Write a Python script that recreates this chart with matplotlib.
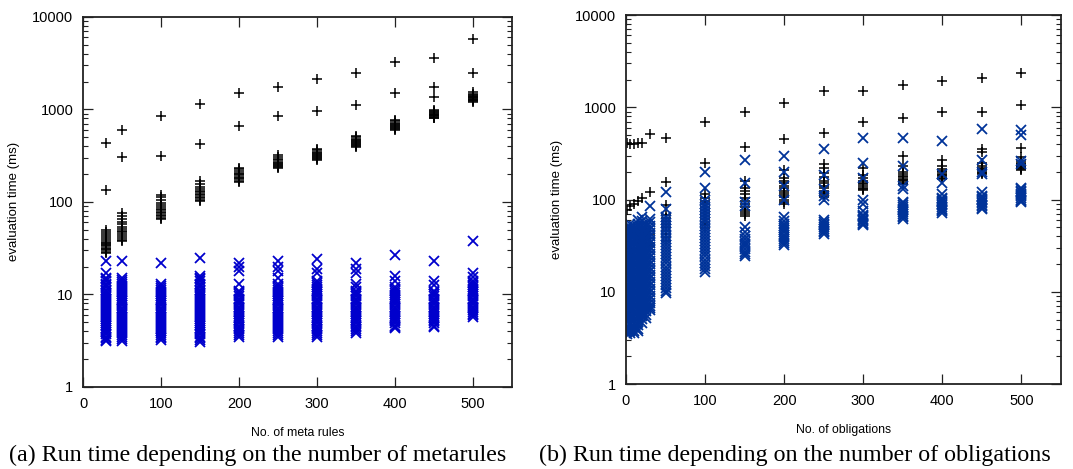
import numpy as np
import matplotlib
matplotlib.use("Agg")
import matplotlib.pyplot as plt

# (a) run time vs number of meta rules
meta_x = [30, 50, 100, 150, 200, 250, 300, 350, 400, 450, 500]
meta_plus = [
    [430, 135, 50, 47, 45, 43, 41, 39, 37, 36, 35, 34, 33, 32, 31, 30, 29, 28],
    [600, 305, 75, 70, 65, 60, 57, 54, 51, 49, 47, 45, 43, 41, 39, 38],
    [850, 310, 120, 112, 105, 98, 92, 88, 84, 81, 78, 75, 72, 70, 67, 65],
    [1150, 420, 170, 158, 145, 138, 132, 127, 122, 118, 114, 110, 106, 102],
    [1500, 660, 235, 225, 215, 207, 200, 194, 188, 182, 176, 170, 165],
    [1750, 840, 320, 305, 292, 282, 273, 265, 258, 250, 243, 236, 230],
    [2150, 970, 375, 360, 348, 338, 328, 320, 312, 305, 297, 290, 282],
    [2500, 1120, 520, 500, 480, 465, 452, 440, 428, 418, 408, 398, 390],
    [3250, 1500, 770, 740, 715, 695, 675, 660, 645, 630, 615, 600],
    [3600, 1750, 1350, 990, 960, 935, 912, 895, 878, 862, 846, 830, 815, 800],
    [5700, 2450, 1530, 1480, 1440, 1405, 1375, 1350, 1325, 1300, 1275, 1250, 1225, 1200],
]
meta_cross = [
    [23, 17, 15.2, 14.5, 13.8, 13.1, 12.5, 11.9, 11.3, 10.8, 10.3, 9.8, 9.3, 8.9, 8.5, 8.1, 7.7, 7.3,
     7.0, 6.6, 6.3, 6.0, 5.7, 5.4, 5.2, 4.9, 4.7, 4.5, 4.3, 4.1, 3.9, 3.7, 3.5, 3.35, 3.2, 3.1],
    [23, 15, 14.3, 13.6, 13.0, 12.4, 11.8, 11.2, 10.7, 10.2, 9.7, 9.2, 8.8, 8.4, 8.0, 7.6, 7.2, 6.9,
     6.6, 6.3, 6.0, 5.7, 5.4, 5.15, 4.9, 4.65, 4.45, 4.25, 4.05, 3.85, 3.65, 3.5, 3.3, 3.15],
    [22, 13, 12.4, 11.8, 11.2, 10.7, 10.2, 9.7, 9.2, 8.8, 8.4, 8.0, 7.6, 7.2, 6.9, 6.6, 6.3, 6.0,
     5.7, 5.4, 5.15, 4.9, 4.65, 4.45, 4.25, 4.05, 3.85, 3.65, 3.5, 3.35, 3.2],
    [25, 16, 15.2, 14.5, 13.8, 13.1, 12.5, 11.9, 11.3, 10.8, 10.3, 9.8, 9.3, 8.9, 8.5, 8.1, 7.7, 7.3,
     7.0, 6.6, 6.3, 6.0, 5.7, 5.4, 5.2, 4.9, 4.7, 4.5, 4.3, 4.1, 3.9, 3.7, 3.5, 3.35, 3.2, 3.05],
    [22, 20, 18, 13, 11, 10.5, 10.0, 9.5, 9.0, 8.6, 8.2, 7.8, 7.4, 7.1, 6.8, 6.5, 6.2, 5.9,
     5.6, 5.35, 5.1, 4.85, 4.6, 4.4, 4.2, 4.0, 3.8, 3.6, 3.45],
    [23, 20, 18, 15, 13, 12.4, 11.8, 11.2, 10.7, 10.2, 9.7, 9.2, 8.8, 8.4, 8.0, 7.6, 7.2, 6.9,
     6.6, 6.3, 6.0, 5.7, 5.4, 5.15, 4.9, 4.65, 4.45, 4.25, 4.05, 3.85, 3.65, 3.5],
    [24, 19, 17, 14, 13.3, 12.7, 12.1, 11.5, 11.0, 10.5, 10.0, 9.5, 9.0, 8.6, 8.2, 7.8, 7.4, 7.1,
     6.8, 6.5, 6.2, 5.9, 5.6, 5.35, 5.1, 4.85, 4.6, 4.4, 4.2, 4.0, 3.8, 3.65, 3.5],
    [22, 19, 17, 13, 12, 11, 10.5, 10.0, 9.5, 9.0, 8.6, 8.2, 7.8, 7.4, 7.1, 6.8, 6.5, 6.2,
     5.9, 5.6, 5.35, 5.1, 4.85, 4.6, 4.4, 4.2, 4.0, 3.85],
    [27, 16, 14, 12, 11.4, 10.9, 10.4, 9.9, 9.4, 9.0, 8.6, 8.2, 7.8, 7.4, 7.1, 6.8, 6.5, 6.2,
     5.9, 5.6, 5.35, 5.1, 4.85, 4.6, 4.45, 4.35],
    [23, 14, 12.5, 11, 10.5, 10.0, 9.5, 9.0, 8.6, 8.2, 7.8, 7.4, 7.1, 6.8, 6.5, 6.2, 5.9, 5.6,
     5.35, 5.1, 4.85, 4.6, 4.45],
    [38, 17, 15.5, 14, 13.3, 12.7, 12.1, 11.5, 11.0, 10.5, 10.0, 9.5, 9.0, 8.6, 8.2, 7.8, 7.4,
     7.1, 6.8, 6.5, 6.2, 5.95, 5.75],
]

# (b) run time vs number of obligations
obl_x = [1, 5, 10, 15, 20, 25, 30, 50, 100, 150, 200, 250, 300, 350, 400, 450, 500]
obl_plus = [
    [415, 78, 48, 42, 36, 31, 27, 23, 20],
    [400, 85, 47, 41, 35, 30, 26],
    [405, 90, 48, 43, 38, 33, 29],
    [410, 96, 47, 42, 37, 33],
    [415, 103, 48, 44, 40, 36],
    [45, 41, 37],
    [515, 122, 46, 42, 38, 34, 31],
    [470, 155, 88, 68, 63, 58, 54, 50, 46, 42, 39, 36],
    [700, 250, 115, 105, 97, 90, 84, 78, 72, 67, 62, 57, 53, 49],
    [880, 370, 160, 135, 125, 115, 105, 97, 90, 84, 78, 74, 70, 67],
    [1100, 450, 210, 170, 160, 150, 140, 132, 125, 118, 112, 106, 100, 95, 90],
    [1500, 530, 240, 220, 195, 175, 160, 150, 140, 132, 125, 119, 114, 110, 106],
    [1500, 700, 220, 185, 170, 160, 152, 146, 140, 135, 131, 127],
    [1750, 760, 300, 230, 200, 190, 182, 175, 169, 163, 158, 153, 149],
    [1950, 880, 270, 230, 215, 205, 197, 190, 184, 178, 173, 168],
    [2100, 900, 350, 330, 250, 232, 222, 214, 207, 200, 194, 188],
    [2350, 1050, 360, 290, 265, 250, 240, 232, 225, 219, 213, 207],
]
obl_cross = [
    [48, 44, 40.5, 37, 34, 31, 28.5, 26, 24, 22, 20.2, 18.5, 17, 15.6, 14.3, 13.1, 12, 11, 10.1,
     9.3, 8.5, 7.8, 7.2, 6.6, 6.05, 5.55, 5.1, 4.7, 4.3, 3.95, 3.65, 3.5],
    [55, 50, 46, 42, 38.5, 35.5, 32.5, 29.8, 27.3, 25, 23, 21.1, 19.4, 17.8, 16.3, 15, 13.7, 12.6,
     11.6, 10.6, 9.7, 8.9, 8.2, 7.5, 6.9, 6.3, 5.8, 5.3, 4.9, 4.5, 4.1, 3.8, 3.6],
    [52, 47.5, 43.5, 40, 36.7, 33.6, 30.8, 28.2, 25.9, 23.7, 21.7, 19.9, 18.3, 16.8, 15.4, 14.1,
     12.9, 11.8, 10.8, 9.9, 9.1, 8.35, 7.65, 7.0, 6.4, 5.9, 5.4, 4.95, 4.55, 4.15, 3.8, 3.6],
    [60, 55, 50, 46, 42, 38.5, 35.3, 32.4, 29.7, 27.2, 24.9, 22.8, 20.9, 19.2, 17.6, 16.1, 14.8,
     13.5, 12.4, 11.4, 10.4, 9.55, 8.75, 8.0, 7.35, 6.75, 6.2, 5.65, 5.2, 4.75, 4.35, 4.0, 3.8],
    [65, 58, 53, 48.5, 44.5, 40.8, 37.4, 34.3, 31.4, 28.8, 26.4, 24.2, 22.2, 20.3, 18.6, 17.1,
     15.7, 14.4, 13.2, 12.1, 11.1, 10.2, 9.3, 8.5, 7.8, 7.15, 6.55, 6.0, 5.5, 5.05, 4.6],
    [55, 50, 46, 42, 38.5, 35.3, 32.4, 29.7, 27.2, 24.9, 22.8, 20.9, 19.2, 17.6, 16.1, 14.8,
     13.5, 12.4, 11.4, 10.4, 9.55, 8.75, 8.0, 7.35, 6.75, 6.2, 5.65, 5.2],
    [85, 62, 57, 52, 47.5, 43.5, 40, 36.7, 33.6, 30.8, 28.2, 25.9, 23.7, 21.7, 19.9, 18.3, 16.8,
     15.4, 14.1, 12.9, 11.8, 10.8, 9.9, 9.1, 8.35, 7.65, 7.0, 6.6, 6.3],
    [120, 80, 65, 60, 55.5, 51.5, 47.5, 44, 40.7, 37.7, 34.9, 32.3, 29.9, 27.7, 25.6, 23.7, 21.9,
     20.3, 18.8, 17.4, 16.1, 14.9, 13.8, 12.8, 11.8, 10.9, 10.1, 9.6],
    [200, 135, 100, 90, 83, 77, 71, 66, 61, 56.5, 52.3, 48.4, 44.8, 41.5, 38.4, 35.6, 33, 30.5,
     28.2, 26.1, 24.2, 22.4, 20.7, 19.2, 17.8, 16.5],
    [270, 150, 95, 85, 50, 45, 40, 37.5, 35, 33, 31, 29, 27.3, 25.8, 24.5],
    [300, 200, 140, 100, 65, 58, 55, 52, 49, 46.5, 44, 41.5, 39.3, 37.2, 35.2, 33.5, 32.5],
    [350, 185, 130, 110, 100, 60, 57.5, 55, 52.5, 50.3, 48.2, 46.2, 44.3, 42.5],
    [460, 250, 170, 100, 90, 75, 68, 66, 64, 62, 60, 58, 56, 54.5, 53],
    [460, 230, 140, 130, 95, 91, 87, 83.5, 80, 76.5, 73, 70, 67, 64, 61],
    [430, 190, 150, 115, 105, 101, 97, 93.5, 90, 86.5, 83, 80, 77, 74.5, 72],
    [580, 270, 200, 190, 120, 110, 106, 102, 98.5, 95, 91.5, 88, 85, 82, 80],
    [570, 500, 260, 240, 135, 130, 125, 120, 116, 112, 108, 104, 100, 96.5, 93],
]

x_ticks = [0, 100, 200, 300, 400, 500]
y_ticks = [1, 10, 100, 1000, 10000]

plt.rcParams['font.family'] = ['Liberation Sans', 'DejaVu Sans']


def flat(xs, cols):
    xx = np.concatenate([[x] * len(c) for x, c in zip(xs, cols)])
    yy = np.concatenate([np.asarray(c, float) for c in cols])
    return xx, yy


def panel(ax, xs, plus, cross, blue, xlabel):
    px, py = flat(xs, plus)
    cx, cy = flat(xs, cross)
    ax.plot(px, py, '+', color='black', ms=7.5, mew=1.1, ls='none')
    ax.plot(cx, cy, 'x', color=blue, ms=6.5, mew=1.3, ls='none')
    ax.set_yscale('log')
    ax.set_ylim(1, 10000)
    ax.set_xlim(0, 550)
    ax.set_xticks(x_ticks)
    ax.set_xticklabels([str(t) for t in x_ticks])
    ax.set_yticks(y_ticks)
    ax.set_yticklabels([str(t) for t in y_ticks])
    ax.tick_params(which='both', direction='in', top=True, right=True,
                   labelsize=10.5, color='#222222')
    ax.tick_params(which='major', length=7, width=0.9, pad=7)
    ax.tick_params(which='minor', length=3.5, width=0.8)
    for s in ax.spines.values():
        s.set_linewidth(1.3)
        s.set_color('#222222')
    ax.set_ylabel('evaluation time (ms)', fontsize=9.5, labelpad=9)
    ax.set_xlabel(xlabel, fontsize=8.8, labelpad=12)


fig = plt.figure(figsize=(10.73, 4.69), dpi=100)
ax1 = fig.add_axes([0.0774, 0.175, 0.400, 0.789])
ax2 = fig.add_axes([0.5834, 0.181, 0.4054, 0.787])

panel(ax1, meta_x, meta_plus, meta_cross, '#0000cc', 'No. of meta rules')
panel(ax2, obl_x, obl_plus, obl_cross, '#003399', 'No. of obligations')

fig.text(0.240, 0.030, '(a) Run time depending on the number of metarules',
         ha='center', va='center', fontsize=17.3, family='Liberation Serif')
fig.text(0.741, 0.030, '(b) Run time depending on the number of obligations',
         ha='center', va='center', fontsize=17.3, family='Liberation Serif')

fig.savefig('out.png', dpi=100)
